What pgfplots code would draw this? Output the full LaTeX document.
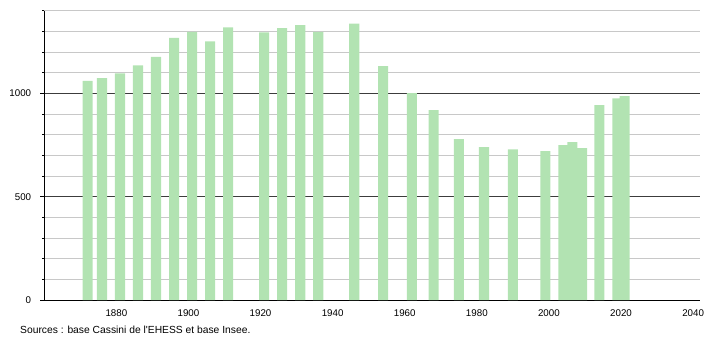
\documentclass[border=0pt]{standalone}
\usepackage{pgfplots}
\pgfplotsset{compat=1.18}
\usepackage{fontspec}
\setmainfont{Liberation Sans}
\definecolor{barg}{RGB}{178,227,178}
\definecolor{gridg}{RGB}{200,200,200}
\definecolor{majg}{RGB}{60,60,60}
\begin{document}
\fontsize{9.75bp}{11bp}\selectfont
\begin{tikzpicture}
\useasboundingbox (-44.3bp,-40bp) rectangle (665.7bp,300bp);
\begin{axis}[
  at={(0,0)}, anchor=south west,
  scale only axis, width=656bp, height=289.3bp,
  xmin=1860, xmax=2042, ymin=0, ymax=1400,
  axis x line*=bottom, axis y line*=left,
  axis line style={black, line width=0.9bp, -},
  /pgf/number format/1000 sep={},
  xtick={1880,1900,...,2040},
  xtick style={draw=none},
  xticklabel style={anchor=base, yshift=-12bp, inner sep=0pt},
  ytick={0,500,1000},
  minor ytick={100,200,300,400,600,700,800,900,1100,1200,1300,1400},
  yticklabel style={anchor=east, inner sep=0pt, xshift=-9bp},
  tick align=outside,
  major tick length=4bp, minor tick length=2bp,
  every tick/.style={black, line width=0.8bp},
  ymajorgrids, yminorgrids,
  major grid style={majg, line width=0.9bp},
  minor grid style={gridg, line width=0.9bp},
  /pgf/number format/assume math mode=true,
  clip=false,
]
\addplot[ybar, bar width=2.8, fill=barg, draw=none] coordinates {
(1872,1060) (1876,1074) (1881,1097) (1886,1135) (1891,1176) (1896,1268)
(1901,1298) (1906,1251) (1911,1319) (1921,1295) (1926,1316) (1931,1330)
(1936,1298) (1946,1337) (1954,1132) (1962,1001) (1968,919) (1975,779)
(1982,740) (1990,729) (1999,720) (2004,750) (2006.5,764) (2009.2,735)
(2014,943) (2019,976) (2021,986)
};
\end{axis}
\node[anchor=west, inner sep=0pt, font=\fontsize{10.3bp}{12bp}\selectfont] at (-24.3bp,-30bp) {Sources : base Cassini de l\textquotesingle EHESS et base Insee.};
\end{tikzpicture}
\end{document}
